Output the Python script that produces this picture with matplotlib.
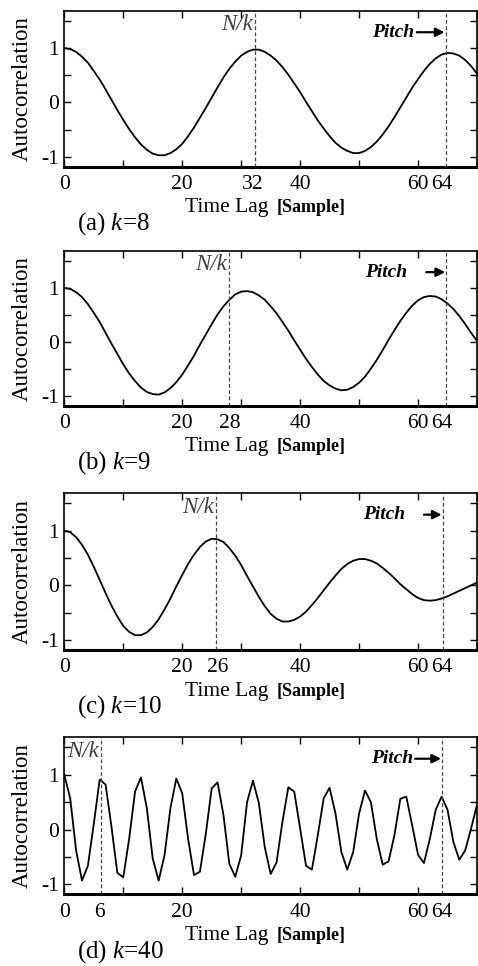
import numpy as np
import matplotlib
matplotlib.use("Agg")
import matplotlib.pyplot as plt
from matplotlib.ticker import MultipleLocator, FixedLocator


# data (autocorrelation at integer time lags 0..70)
# ----------
lags = np.arange(71)

acf_k8 = [1.00, 0.98, 0.93, 0.84, 0.73, 0.58, 0.42, 0.24, 0.05, -0.14,
          -0.32, -0.49, -0.64, -0.77, -0.87, -0.94, -0.97, -0.97, -0.93, -0.86,
          -0.76, -0.62, -0.46, -0.28, -0.10, 0.09, 0.28, 0.46, 0.62, 0.75,
          0.86, 0.93, 0.97, 0.97, 0.93, 0.86, 0.77, 0.65, 0.51, 0.35,
          0.19, 0.01, -0.16, -0.33, -0.48, -0.62, -0.74, -0.83, -0.89, -0.93,
          -0.93, -0.89, -0.82, -0.72, -0.59, -0.44, -0.27, -0.09, 0.09, 0.27,
          0.43, 0.58, 0.71, 0.81, 0.88, 0.91, 0.90, 0.86, 0.78, 0.67,
          0.53]

acf_k9 = [1.00, 0.98, 0.92, 0.83, 0.70, 0.54, 0.37, 0.17, -0.03, -0.22,
          -0.41, -0.58, -0.72, -0.84, -0.92, -0.96, -0.97, -0.93, -0.85, -0.74,
          -0.60, -0.43, -0.25, -0.05, 0.14, 0.33, 0.51, 0.66, 0.78, 0.88,
          0.93, 0.94, 0.92, 0.86, 0.78, 0.66, 0.53, 0.37, 0.21, 0.03,
          -0.14, -0.31, -0.46, -0.60, -0.72, -0.80, -0.86, -0.89, -0.88, -0.83,
          -0.75, -0.64, -0.49, -0.33, -0.15, 0.04, 0.22, 0.39, 0.54, 0.67,
          0.77, 0.83, 0.85, 0.84, 0.79, 0.71, 0.61, 0.48, 0.33, 0.17,
          0.02]

acf_k10 = [1.00, 0.97, 0.88, 0.74, 0.56, 0.34, 0.10, -0.14, -0.37, -0.57,
           -0.74, -0.85, -0.91, -0.91, -0.86, -0.76, -0.62, -0.44, -0.24, -0.02,
           0.19, 0.39, 0.56, 0.70, 0.80, 0.85, 0.84, 0.79, 0.68, 0.54,
           0.37, 0.17, -0.02, -0.21, -0.38, -0.52, -0.61, -0.66, -0.66, -0.63,
           -0.57, -0.48, -0.36, -0.23, -0.09, 0.05, 0.18, 0.30, 0.39, 0.45,
           0.48, 0.48, 0.45, 0.40, 0.32, 0.23, 0.13, 0.02, -0.07, -0.16,
           -0.23, -0.27, -0.28, -0.27, -0.24, -0.20, -0.15, -0.10, -0.05, 0.00,
           0.05]

acf_k40 = [1.00, 0.57, -0.38, -0.93, -0.66, 0.10, 0.91, 0.82, 0.05, -0.79,
           -0.87, -0.17, 0.69, 0.95, 0.39, -0.53, -0.93, -0.47, 0.39, 0.93,
           0.66, -0.17, -0.83, -0.77, -0.08, 0.75, 0.86, 0.26, -0.63, -0.86,
           -0.47, 0.50, 0.89, 0.48, -0.32, -0.81, -0.60, 0.14, 0.77, 0.69,
           0.02, -0.66, -0.73, -0.10, 0.57, 0.76, 0.29, -0.41, -0.73, -0.41,
           0.29, 0.71, 0.50, -0.17, -0.64, -0.58, -0.10, 0.56, 0.60, 0.08,
           -0.46, -0.61, -0.17, 0.36, 0.60, 0.36, -0.23, -0.55, -0.38, 0.02,
           0.45]

panel_letters = ["a", "b", "c", "d"]
k_values = [8, 9, 10, 40]
nk_lags = [32.4, 28.0, 25.8, 6.2]
pitch_lags = [64.7, 64.8, 64.2, 64.1]
xtick_values = [[0, 20, 32, 40, 60, 64],
                [0, 20, 28, 40, 60, 64],
                [0, 20, 26, 40, 60, 64],
                [0, 6, 20, 40, 60, 64]]
curves = [acf_k8, acf_k9, acf_k10, acf_k40]

# plot settings
# ----------
plt.rcParams["font.family"] = "Liberation Serif"
plt.rcParams["mathtext.fontset"] = "custom"
plt.rcParams["mathtext.it"] = "Liberation Serif:italic"
plt.rcParams["mathtext.rm"] = "Liberation Serif"

W, H = 478, 966
fig = plt.figure(figsize=(W / 100, H / 100), dpi=100)

ax_left, ax_right = 64.3, 477.0
ax_tops = [11.0, 251.0, 493.3, 737.3]
ax_bottoms = [166.7, 406.0, 650.0, 894.3]
arrow_len = [4.7, 3.2, 3.0, 4.4]
text_gap = [0.5, 3.2, 3.2, 0.4]

for idx in range(4):
    top, bot = ax_tops[idx], ax_bottoms[idx]
    ax = fig.add_axes([ax_left / W, 1 - bot / H,
                       (ax_right - ax_left) / W, (bot - top) / H])

    ax.plot(lags, curves[idx], color="black", lw=1.3)
    ax.set_xlim(0, 70)
    ax.set_ylim(-1.18, 1.68)

    # ticks
    ax.xaxis.remove_overlapping_locs = False
    ax.xaxis.set_major_locator(FixedLocator(xtick_values[idx]))
    ax.set_xticklabels([str(v) for v in xtick_values[idx]])
    ax.xaxis.set_minor_locator(MultipleLocator(10))
    ax.yaxis.set_major_locator(FixedLocator([-1, 0, 1]))
    ax.set_yticklabels(["-1", "0", "1"])
    ax.yaxis.set_minor_locator(MultipleLocator(0.5))
    ax.tick_params(axis="x", which="major", length=0, pad=6, labelsize=15.5)
    ax.tick_params(axis="y", which="major", direction="in", length=5, width=1,
                   left=True, right=True, pad=4, labelsize=15.5)
    ax.tick_params(which="minor", direction="in", length=5, width=1,
                   top=True, bottom=True, left=True, right=True)
    for side in ["top", "left", "right"]:
        ax.spines[side].set_linewidth(1.2)
    ax.spines["bottom"].set_linewidth(2.2)

    # markers for N/k and pitch
    ax.axvline(nk_lags[idx], color="#444444", lw=0.9, ls=(0, (3, 2)))
    ax.axvline(pitch_lags[idx], color="#444444", lw=0.9, ls=(0, (3, 2)))
    ax.text(nk_lags[idx] - 0.4, 1.62, "N/k", style="italic", ha="right",
            va="top", fontsize=16.5, color="#404040")
    p = pitch_lags[idx]
    ax.annotate("", xy=(p - 0.2, 1.29), xytext=(p - 0.2 - arrow_len[idx], 1.29),
                arrowprops=dict(arrowstyle="-|>", color="black", lw=1.6,
                                mutation_scale=13, shrinkA=0, shrinkB=0))
    ax.text(p - 0.2 - arrow_len[idx] - text_gap[idx], 1.29, "Pitch",
            style="italic", weight="bold", ha="right", va="center",
            fontsize=14)

    # labels
    ax.text(0.394, -0.292, "Time Lag", transform=ax.transAxes,
            ha="center", va="baseline", fontsize=15.5)
    ax.text(0.515, -0.292, "[Sample]", transform=ax.transAxes,
            ha="left", va="baseline", fontsize=13, weight="bold")
    ax.text(0.031, -0.401, f"({panel_letters[idx]}) $k$={k_values[idx]}",
            transform=ax.transAxes, ha="left", va="baseline", fontsize=18)
    fig.text(22 / W, 1 - (top + bot) / 2 / H, "Autocorrelation",
             rotation=90, ha="center", va="center", fontsize=16.5)

fig.savefig("out.png", dpi=100)
